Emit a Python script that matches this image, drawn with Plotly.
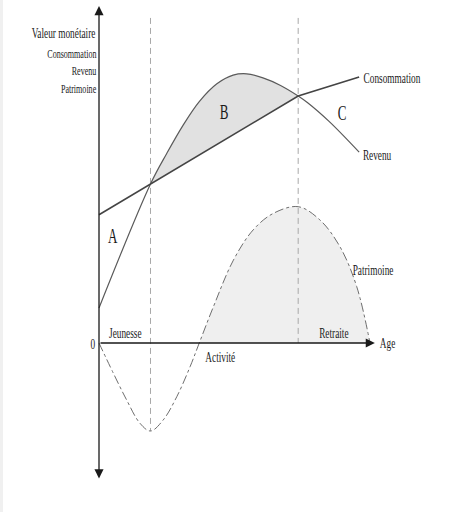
import plotly.graph_objects as go

# Life-cycle model: income, consumption and wealth over age (arbitrary units)
cons_age = [0, 73.5, 96]
consumption = [47.5, 91.5, 98.5]

revenue_age = [0, 19, 25, 31, 37, 43.5, 49.5, 54.5, 60.5, 67, 73.5, 77, 85, 96]
revenue = [13, 58.9, 70.2, 80.6, 89.4, 96.0, 99.2, 99.7, 98.2, 95.4, 91.5, 89, 82, 70.7]

wealth_age = [0, 5.3, 10.2, 15.1, 19, 23.7, 28.7, 33.6, 37, 42.2, 49.6, 56.9,
              64.3, 73.5, 81.5, 88.9, 95.1, 100]
wealth = [0, -11.2, -21.1, -29.7, -32.6, -28.5, -19.9, -8.8, 0, 13.4, 30.7, 41.9,
          48, 50.5, 45.6, 35.7, 20.9, 0]

youth_end = 19
retirement_age = 73.5

FONT = "Liberation Serif"
INK = "#1a1a1a"

fig = go.Figure()

# saving area B: between income and consumption during working life
fig.add_trace(go.Scatter(x=cons_age[:2], y=consumption[:2], mode="lines",
                         line=dict(width=0), hoverinfo="skip", showlegend=False))
rb = [(a, v) for a, v in zip(revenue_age, revenue) if youth_end <= a <= retirement_age]
fig.add_trace(go.Scatter(x=[a for a, _ in rb], y=[v for _, v in rb], mode="lines",
                         line=dict(width=0, shape="spline"), fill="tonexty",
                         fillcolor="#e1e1e1", hoverinfo="skip", showlegend=False))

# positive wealth area
wp = [(a, v) for a, v in zip(wealth_age, wealth) if v >= 0 and a >= 37]
fig.add_trace(go.Scatter(x=[a for a, _ in wp], y=[v for _, v in wp], mode="lines",
                         line=dict(width=0, shape="spline"), fill="tozeroy",
                         fillcolor="#efefef", hoverinfo="skip", showlegend=False))

# phase separators
for xa, ybot in [(youth_end, min(wealth)), (retirement_age, 0)]:
    fig.add_trace(go.Scatter(x=[xa, xa], y=[120.4, ybot], mode="lines",
                             line=dict(color="#a8a8a8", width=1, dash="6px,4px"),
                             hoverinfo="skip", showlegend=False))

fig.add_trace(go.Scatter(x=wealth_age, y=wealth, mode="lines",
                         line=dict(color="#6e6e6e", width=1, dash="dashdot", shape="spline"),
                         showlegend=False))
fig.add_trace(go.Scatter(x=revenue_age, y=revenue, mode="lines",
                         line=dict(color="#5a5a5a", width=1.2, shape="spline"),
                         showlegend=False))
fig.add_trace(go.Scatter(x=cons_age, y=consumption, mode="lines",
                         line=dict(color="#444444", width=1.6),
                         showlegend=False))

# axes with arrows
arrows = [
    dict(x=0, y=124.8, ax=0, ay=-50.7, arrowside="end+start"),
    dict(x=101.8, y=0, ax=0, ay=0, arrowside="end"),
]
for a in arrows:
    fig.add_annotation(text="", showarrow=True, xref="x", yref="y", axref="x", ayref="y",
                       arrowhead=2, arrowsize=1.4, arrowwidth=1.3, arrowcolor=INK,
                       standoff=0, startstandoff=0, startarrowhead=2, startarrowsize=1.4,
                       **a)

labels = [
    ("Valeur monétaire", -13.1, 114.8, 15),
    ("Consommation", -10.0, 107.4, 13),
    ("Revenu", -5.7, 101.1, 13),
    ("Patrimoine", -7.6, 94.4, 13),
    ("A", 5.2, 39.6, 21),
    ("B", 46.1, 85.6, 21),
    ("C", 89.7, 85.2, 21),
    ("Consommation", 108.1, 98.1, 15),
    ("Revenu", 102.6, 69.6, 15),
    ("Patrimoine", 101.1, 27.0, 15),
    ("Jeunesse", 9.6, 3.7, 15),
    ("Retraite", 86.7, 3.7, 15),
    ("Activité", 45.0, -5.2, 15),
    ("0", -2.2, -0.4, 15),
    ("Age", 106.3, 0, 15),
]
for txt, x, y, size in labels:
    fig.add_annotation(text=txt, x=x, y=y, xref="x", yref="y", showarrow=False,
                       xanchor="center", yanchor="middle",
                       font=dict(family=FONT, size=size, color=INK))

fig.add_shape(type="rect", xref="paper", yref="paper", x0=0, x1=3 / 453, y0=0, y1=1,
              line=dict(width=0), fillcolor="#f0f0f0", layer="below")

fig.update_layout(
    width=453, height=512,
    margin=dict(l=0, r=0, t=0, b=0),
    paper_bgcolor="white", plot_bgcolor="white",
    xaxis=dict(range=[-36.53, 130.63], visible=False, fixedrange=True),
    yaxis=dict(range=[-62.59, 127.04], visible=False, fixedrange=True),
    showlegend=False,
)

# narrow the typeface horizontally
post = """
var s = document.createElement('style');
s.textContent = '.annotation-text{transform-box:fill-box;transform-origin:center;transform:scaleX(0.62);}';
document.head.appendChild(s);
"""
fig.write_html("out.html", post_script=post, config={"displayModeBar": False})
